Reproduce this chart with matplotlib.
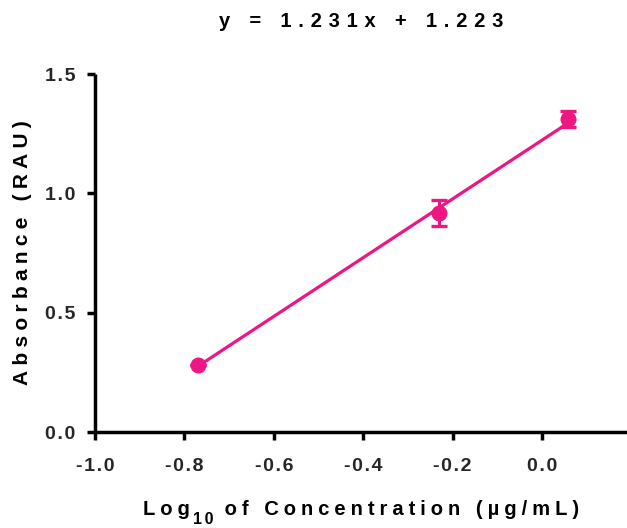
import numpy as np
import matplotlib
matplotlib.use("Agg")
from matplotlib import pyplot as plt

plt.rcParams['font.family'] = ['Liberation Sans', 'DejaVu Sans']
plt.rcParams['font.weight'] = 'bold'

# standards: log10 concentration vs absorbance (mean, sd)
log_conc = [-0.77, -0.23, 0.058]
absorbance = [0.281, 0.917, 1.311]
abs_sd = [0.0, 0.055, 0.035]
slope, intercept = 1.231, 1.223
x_ticks = [-1.0, -0.8, -0.6, -0.4, -0.2, 0.0]
y_ticks = [0.0, 0.5, 1.0, 1.5]

pink = '#EE1682'
ink = '#262626'


def spaced(s, gap='\u2005'):
    # prism style wide lettering
    return gap.join(s)


fig = plt.figure(figsize=(6.27, 5.28), dpi=100)
ax = fig.add_axes([0.1515, 0.1818, 0.8485, 0.678])

fit_x = np.array([log_conc[0], log_conc[-1]])
ax.plot(fit_x, slope * fit_x + intercept, color=pink, lw=2.3, zorder=2)
ax.errorbar(log_conc, absorbance, yerr=abs_sd, fmt='o', color=pink, ms=10.5,
            elinewidth=2.2, capsize=5.5, capthick=2.4, zorder=3)

ax.set_xlim(-1.0, 0.19)
ax.set_ylim(0, 1.5)
ax.set_xticks(x_ticks)
ax.set_yticks(y_ticks)
ax.set_xticklabels([spaced('%.1f' % v, '\u200a') for v in x_ticks])
ax.set_yticklabels([spaced('%.1f' % v, '\u200a') for v in y_ticks])
for side in ['top', 'right']:
    ax.spines[side].set_visible(False)
for side in ['left', 'bottom']:
    ax.spines[side].set_linewidth(2.5)
    ax.spines[side].set_capstyle('butt')
ax.tick_params(direction='out', length=6, width=2.5, labelsize=14,
               labelcolor=ink)
ax.tick_params(axis='x', pad=13)
ax.tick_params(axis='y', pad=8)

ax.set_title(spaced('y = 1.231x + 1.223', '\u2004'), fontsize=14.5,
             fontweight='bold', pad=34)
ax.set_ylabel(spaced('Absorbance (RAU)'), fontsize=15, fontweight='bold')
ax.yaxis.set_label_coords(-0.118, 0.5)

# x label with a dropped subscript, built from three chained pieces
t1 = fig.text(0.2, 1 - 515 / 528, spaced('Log'), fontsize=14.5,
              fontweight='bold', va='baseline', ha='left')
t2 = ax.annotate(spaced('10', '\u2006'), xy=(1, 0), xycoords=t1,
                 xytext=(2, -5.5), textcoords='offset points',
                 fontsize=11.5, fontweight='bold', va='bottom', ha='left')
t3 = ax.annotate(spaced(' of Concentration (µg/mL)'), xy=(1, 0),
                 xycoords=(t2, t1), xytext=(0, 0), textcoords='offset points',
                 fontsize=14.5, fontweight='bold', va='bottom', ha='left')

fig.canvas.draw()
r = fig.canvas.get_renderer()
width = t3.get_window_extent(r).x1 - t1.get_window_extent(r).x0
t1.set_x((361 - width / 2) / 627)

fig.savefig('out.png', dpi=100)
